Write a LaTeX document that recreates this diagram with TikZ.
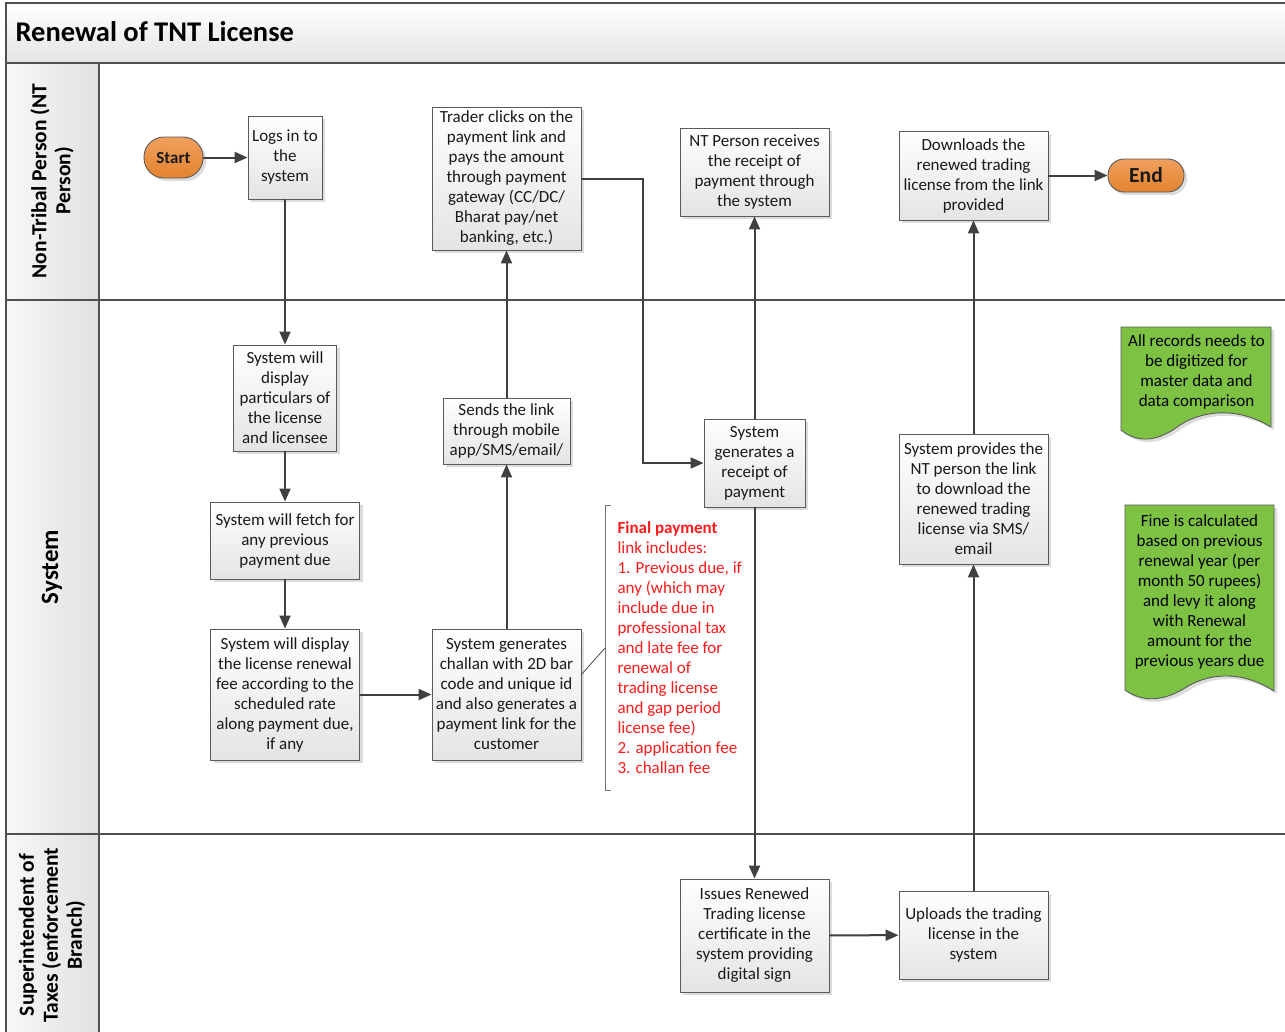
\documentclass[tikz,border=0pt]{standalone}
\usepackage{fontspec}
\setmainfont{Carlito}
\usetikzlibrary{arrows.meta,shadows,calc}

\definecolor{linec}{HTML}{404040}
\definecolor{framec}{HTML}{505050}
\definecolor{boxedge}{HTML}{5A5A5A}
\definecolor{boxlow}{HTML}{E4E4E4}
\definecolor{orangetop}{HTML}{EFA05E}
\definecolor{orangelow}{HTML}{E3832F}
\definecolor{notegreen}{HTML}{7DC243}
\definecolor{notered}{HTML}{FF1A1A}

\tikzset{
  bodyfont/.style={font=\fontsize{17}{20}\selectfont},
  procbox/.style={draw=boxedge, line width=0.9pt, top color=white, bottom color=boxlow,
    align=center, inner sep=0pt, bodyfont, text=black!90,
    drop shadow={shadow xshift=3pt, shadow yshift=-3pt, fill=black!30, opacity=0.45}},
  terminal/.style={procbox, top color=orangetop, bottom color=orangelow, font=\bfseries},
  flow/.style={draw=linec, line width=2pt, -{Triangle[length=13pt,width=11pt]}},
  lanelabel/.style={rotate=90, align=center, font=\bfseries\fontsize{21.5}{24}\selectfont},
  notedoc/.style={draw=boxedge, line width=0.9pt, fill=notegreen,
    drop shadow={shadow xshift=3pt, shadow yshift=-3pt, fill=black!30, opacity=0.45}},
}

\begin{document}
\begin{tikzpicture}[x=1pt,y=-1pt]
\useasboundingbox (0,0) rectangle (1285,1031);
\clip (0,0) rectangle (1285,1031);
\fill[white] (0,0) rectangle (1285,1031);

% ---- pool frame, title band and lane headers ----
\shade[top color=white, bottom color=boxlow] (6,3) rectangle (1300,63);
\shade[left color=white!97!black, right color=white!88!black] (6,63) rectangle (99,1040);
\draw[framec, line width=1.4pt] (6,1040) -- (6,3) -- (1300,3);
\draw[framec, line width=1.4pt] (6,63) -- (1300,63);
\draw[framec, line width=1.4pt] (6,300) -- (1300,300);
\draw[framec, line width=1.4pt] (6,834) -- (1300,834);
\draw[framec, line width=1.4pt] (99,63) -- (99,1040);

\node[anchor=west, font=\bfseries\fontsize{28.5}{32}\selectfont] (title) at (12,32) {Renewal of TNT License};

\node[lanelabel] (laneNT) at (52,181) {Non-Tribal Person (NT\\Person)};
\node[lanelabel, font=\bfseries\fontsize{25}{28}\selectfont] (laneSys) at (52,567) {System};
\node[lanelabel] (laneSup) at (52,935) {Superintendent of\\Taxes (enforcement\\Branch)};

% ---- NT person lane ----
\node[terminal, minimum width=59pt, minimum height=41pt, rounded corners=20pt,
      font=\bfseries\fontsize{17}{20}\selectfont] (start) at (173.5,157.5) {Start};
\node[procbox, minimum width=74pt, minimum height=83pt] (logs) at (285,157.5)
  {Logs in to\\the\\system};
\node[procbox, minimum width=149pt, minimum height=143pt] (trader) at (506.5,178.5)
  {Trader clicks on the\\payment link and\\pays the amount\\through payment\\gateway (CC/DC/\\Bharat pay/net\\banking, etc.)};
\node[procbox, minimum width=149pt, minimum height=88pt] (ntrec) at (754.5,172)
  {NT Person receives\\the receipt of\\payment through\\the system};
\node[procbox, minimum width=149pt, minimum height=89pt] (download) at (973.5,175.5)
  {Downloads the\\renewed trading\\license from the link\\provided};
\node[terminal, minimum width=76pt, minimum height=33pt, rounded corners=16pt,
      font=\bfseries\fontsize{21.5}{24}\selectfont] (end) at (1146,175.5) {End};

% ---- system lane ----
\node[procbox, minimum width=103pt, minimum height=106pt] (partic) at (285,398)
  {System will\\display\\particulars of\\the license\\and licensee};
\node[procbox, minimum width=149pt, minimum height=77pt] (fetch) at (285,540.5)
  {System will fetch for\\any previous\\payment due};
\node[procbox, minimum width=149pt, minimum height=131pt] (fee) at (285,694.5)
  {System will display\\the license renewal\\fee according to the\\scheduled rate\\along payment due,\\if any};
\node[procbox, minimum width=149pt, minimum height=131pt] (challan) at (506.5,694.5)
  {System generates\\challan with 2D bar\\code and unique id\\and also generates a\\payment link for the\\customer};
\node[procbox, minimum width=127pt, minimum height=66pt] (sends) at (506.5,431)
  {Sends the link\\through mobile\\app/SMS/email/};
\node[procbox, minimum width=101pt, minimum height=88pt] (receipt) at (754.5,463)
  {System\\generates a\\receipt of\\payment};
\node[procbox, minimum width=149pt, minimum height=130pt] (provides) at (973.5,499)
  {System provides the\\NT person the link\\to download the\\renewed trading\\license via SMS/\\email};

% green notes with a wavy lower edge
\path[notedoc] (1121,327) -- (1271,327) -- (1271,427)
  .. controls (1235,405) and (1200,412) .. (1180,425)
  .. controls (1160,440) and (1140,445) .. (1121,430) -- cycle;
\node[bodyfont, align=center] (noteRec) at (1196.5,372)
  {All records needs to\\be digitized for\\master data and\\data comparison};
\path[notedoc] (1125,505) -- (1274,505) -- (1274,691)
  .. controls (1238,668) and (1205,675) .. (1185,688)
  .. controls (1162,702) and (1142,702) .. (1125,690) -- cycle;
\node[bodyfont, align=center] (noteFine) at (1199.5,592)
  {Fine is calculated\\based on previous\\renewal year (per\\month 50 rupees)\\and levy it along\\with Renewal\\amount for the\\previous years due};

% red annotation with bracket
\coordinate (brTop) at (611,505);
\coordinate (brBot) at (611,790);
\coordinate (brMid) at (605,648);
\coordinate (annFoot) at (581,675);
\draw[black!55, line width=0.9pt] (brTop) -- (605,505) -- (605,790) -- (brBot);
\draw[black!70, line width=0.8pt] (annFoot) -- (brMid);
\node[anchor=west, align=left, bodyfont, text=notered] (annot) at (614,648)
  {\textbf{Final payment}\\link includes:\\1. Previous due, if\\any (which may\\include due in\\professional tax\\and late fee for\\renewal of\\trading license\\and gap period\\license fee)\\2. application fee\\3. challan fee};

% ---- superintendent lane ----
\node[procbox, minimum width=149pt, minimum height=113pt] (issues) at (754.5,935.5)
  {Issues Renewed\\Trading license\\certificate in the\\system providing\\digital sign};
\node[procbox, minimum width=149pt, minimum height=88pt] (uploads) at (973.5,935)
  {Uploads the trading\\license in the\\system};

% ---- connectors ----
\draw[flow] (start) -- (logs);
\draw[flow] (logs) -- (partic);
\draw[flow] (partic) -- (fetch);
\draw[flow] (fetch) -- (fee);
\draw[flow] (fee) -- (challan);
\draw[flow] (challan) -- (sends);
\draw[flow] (sends) -- (trader);
\draw[flow] (trader.east) -| ([xshift=-61pt]receipt.west) -- (receipt.west);
\draw[flow] (receipt) -- (ntrec);
\draw[flow] (receipt) -- (issues);
\draw[flow] (issues) -- (uploads);
\draw[flow] (uploads) -- (provides);
\draw[flow] (provides) -- (download);
\draw[flow] (download) -- (end);
\end{tikzpicture}
\end{document}
